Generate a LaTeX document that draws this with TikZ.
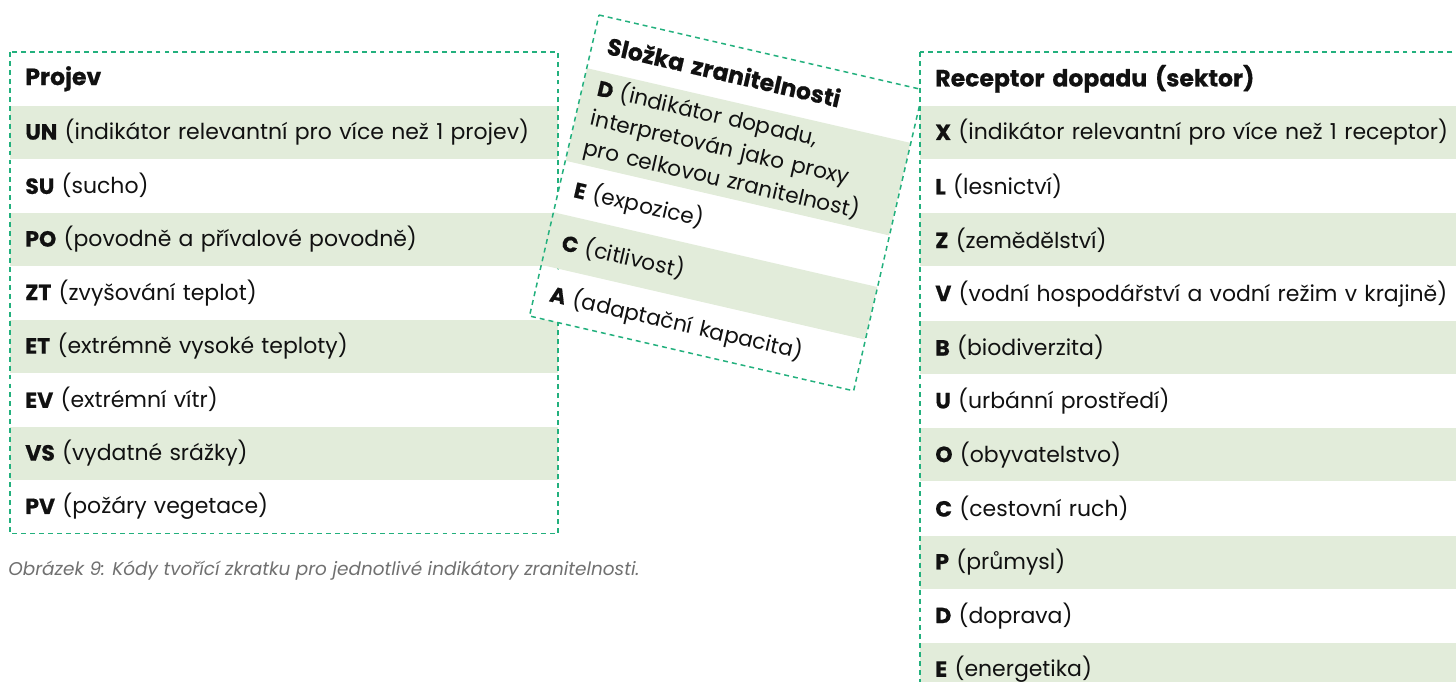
\documentclass[tikz,border=0pt]{standalone}
\usepackage{fontspec}
\setmainfont{Poppins}[BoldFeatures={FakeBold=0.6}]
\usetikzlibrary{positioning}
\definecolor{framegreen}{HTML}{22B07D}
\definecolor{rowgreen}{HTML}{E2ECDA}
\definecolor{captiongray}{HTML}{707070}
\definecolor{inkblack}{HTML}{111111}

\begin{document}
\begin{tikzpicture}[x=0.02cm, y=-0.02cm,
  nodes={inner ysep=0pt, inner xsep=0.3cm, align=left, text=inkblack,
    font=\fontsize{12.5}{17}\selectfont},
  frame/.style={draw=framegreen, line width=0.85pt, dash pattern=on 2.8pt off 2.3pt},
  head/.style={font=\fontsize{13.4}{16}\selectfont\bfseries},
  leftrow/.style={minimum height=1.056cm, text width=10.35cm, fill=white},
  rightrow/.style={minimum height=1.06cm, text width=11cm, fill=white},
  midrow/.style={text width=6.04cm, fill=white, font=\fontsize{12.3}{17.3}\selectfont},
  tinted/.style={fill=rowgreen}]
\useasboundingbox (0,0) rectangle (1456,682);
\clip (0,0) rectangle (1456,682);

\node[leftrow, head, anchor=north west] (projev) at (10,52) {Projev};
\node[leftrow, tinted, below=0pt of projev] (un) {\textbf{UN} (indikátor relevantní pro více než 1 projev)};
\node[leftrow, below=0pt of un] (su) {\textbf{SU} (sucho)};
\node[leftrow, tinted, below=0pt of su] (po) {\textbf{PO} (povodně a přívalové povodně)};
\node[leftrow, below=0pt of po] (zt) {\textbf{ZT} (zvyšování teplot)};
\node[leftrow, tinted, below=0pt of zt] (et) {\textbf{ET} (extrémně vysoké teploty)};
\node[leftrow, below=0pt of et] (ev) {\textbf{EV} (extrémní vítr)};
\node[leftrow, tinted, below=0pt of ev] (vs) {\textbf{VS} (vydatné srážky)};
\node[leftrow, below=0pt of vs] (pv) {\textbf{PV} (požáry vegetace)};
\draw[frame] (projev.north west) rectangle (pv.south east);

\begin{scope}[shift={(599,15)}, rotate=-13, transform shape]
\node[midrow, head, minimum height=1.07cm, anchor=north west] (slozka) at (0,0) {Složka zranitelnosti};
\node[midrow, tinted, minimum height=1.9cm, below=0pt of slozka] (dD) {\textbf{D} (indikátor dopadu,\\interpretován jako proxy\\pro celkovou zranitelnost)};
\node[midrow, minimum height=1.03cm, below=0pt of dD] (dE) {\textbf{E} (expozice)};
\node[midrow, tinted, minimum height=1.08cm, below=0pt of dE] (dC) {\textbf{C} (citlivost)};
\node[midrow, minimum height=1.03cm, below=0pt of dC] (dA) {\textbf{A} (adaptační kapacita)};
\draw[frame] (slozka.north west) -- (slozka.north east) -- (dA.south east) -- (dA.south west) -- cycle;
\end{scope}

\node[rightrow, head, anchor=north west] (receptor) at (920,52) {Receptor dopadu (sektor)};
\node[rightrow, tinted, below=0pt of receptor] (rX) {\textbf{X} (indikátor relevantní pro více než 1 receptor)};
\node[rightrow, below=0pt of rX] (rL) {\textbf{L} (lesnictví)};
\node[rightrow, tinted, below=0pt of rL] (rZ) {\textbf{Z} (zemědělství)};
\node[rightrow, below=0pt of rZ] (rV) {\textbf{V} (vodní hospodářství a vodní režim v krajině)};
\node[rightrow, tinted, below=0pt of rV] (rB) {\textbf{B} (biodiverzita)};
\node[rightrow, below=0pt of rB] (rU) {\textbf{U} (urbánní prostředí)};
\node[rightrow, tinted, below=0pt of rU] (rO) {\textbf{O} (obyvatelstvo)};
\node[rightrow, below=0pt of rO] (rC) {\textbf{C} (cestovní ruch)};
\node[rightrow, tinted, below=0pt of rC] (rP) {\textbf{P} (průmysl)};
\node[rightrow, below=0pt of rP] (rD) {\textbf{D} (doprava)};
\node[rightrow, tinted, below=0pt of rD] (rE) {\textbf{E} (energetika)};
\draw[frame] (receptor.north west) rectangle (rE.south east);

\node[anchor=west, inner xsep=0pt, text=captiongray, font=\itshape\fontsize{10.5}{12}\selectfont] (caption) at (8,571) {Obrázek 9: Kódy tvořící zkratku pro jednotlivé indikátory zranitelnosti.};
\end{tikzpicture}
\end{document}
